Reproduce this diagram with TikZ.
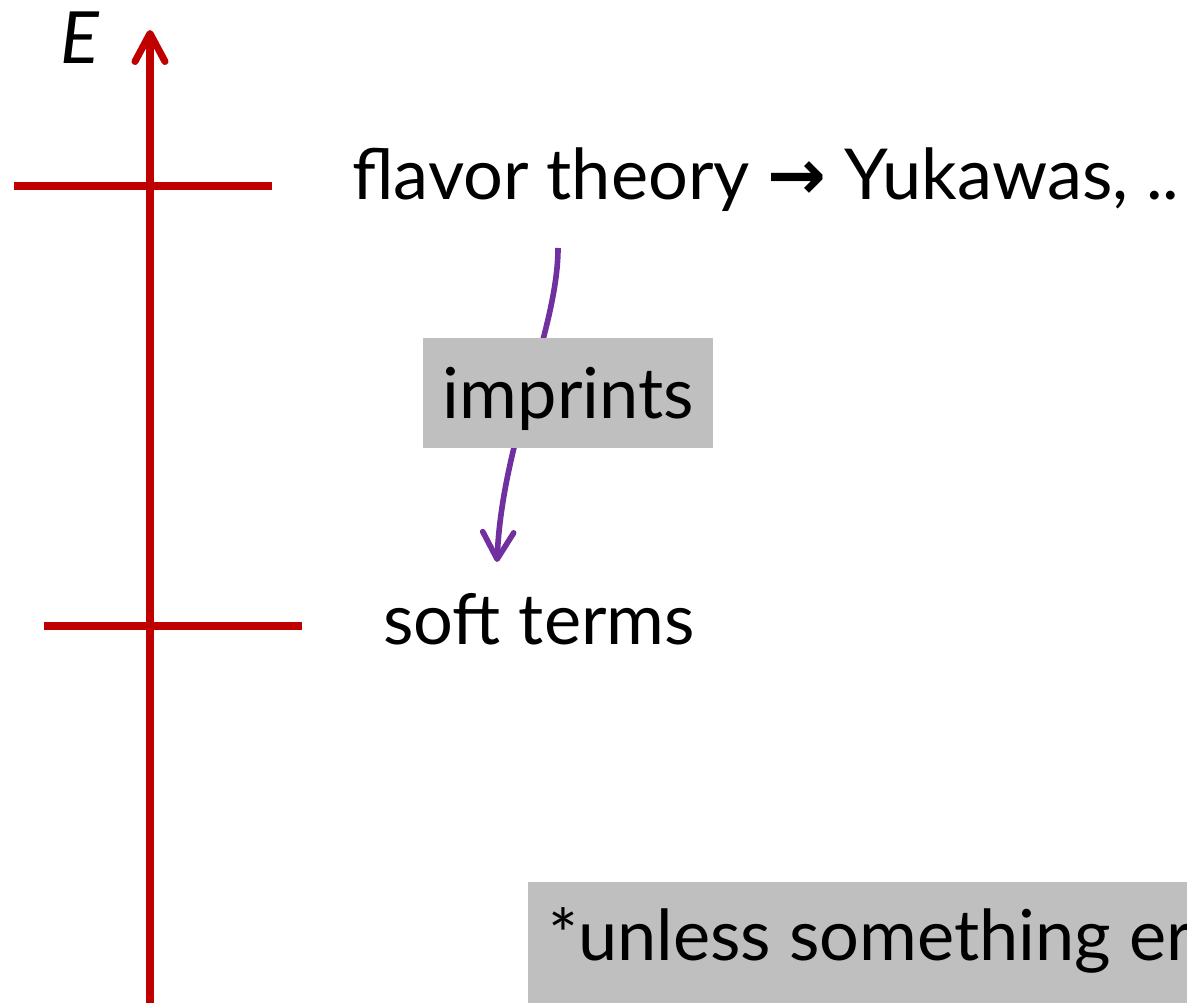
\documentclass[tikz,border=0pt]{standalone}
\usepackage{fontspec}
\setmainfont{Lato}
\newfontfamily\arrowfont{DejaVu Sans}
\usetikzlibrary{arrows.meta,positioning}
\definecolor{axisred}{RGB}{192,0,0}
\definecolor{imprintpurple}{RGB}{112,48,160}
\definecolor{boxgray}{RGB}{191,191,191}

\begin{document}
\begin{tikzpicture}[x=0.02cm, y=-0.02cm,
	axisline/.style={
		draw=axisred,
		line width=4pt,
		-{Straight Barb[length=5.6mm, width=6mm, round]}
	},
	scaletick/.style={
		draw=axisred,
		line width=4.5pt
	},
	imprintarrow/.style={
		draw=imprintpurple,
		line width=3.2pt,
		-{Straight Barb[length=5.4mm, width=6.2mm, round]}
	},
	levellabel/.style={
		font=\fontsize{40}{48}\selectfont,
		anchor=base west,
		inner sep=0pt
	},
	graybox/.style={
		fill=boxgray,
		inner sep=0pt,
		font=\fontsize{40}{48}\selectfont
	}
	]
	
	% Frame
	\useasboundingbox (0,0) rectangle (1187,1003);
	\clip (0,0) rectangle (1187,1003);
	
	% Energy axis
	\coordinate (axisbot) at (150,1010);
	\coordinate (axistop) at (150,30);
	\draw[axisline] (axisbot) -- (axistop);
	\node[font=\itshape\fontsize{41}{48}\selectfont, inner sep=0pt] (elabel) at (80,38) {E};
	
	% Scales
	\draw[scaletick] (14,186) -- (272,186);
	\draw[scaletick] (44,626) -- (302,626);
	
	% Scale labels
	\node[levellabel] (flavor) at (352,200) {flavor theory {\arrowfont\bfseries →} Yukawas, ..};
	\node[levellabel] (soft) at (383,644) {soft terms};
	
	% Imprints
	\coordinate (imptop) at (558,248);
	\coordinate (impbot) at (497,562);
	\draw[imprintarrow] (imptop) .. controls (558,330) and (502,440) .. (impbot);
	\node[graybox, anchor=north west, minimum width=5.8cm, text height=1.6cm, text depth=0.6cm] (imprints) at (423,338) {imprints};
	
	% Footnote
	\node[graybox, anchor=north west, inner xsep=0.4cm, text height=1.56cm, text depth=2cm, align=left] (note) at (528,882) {*unless something erases};
	
\end{tikzpicture}
\end{document}
